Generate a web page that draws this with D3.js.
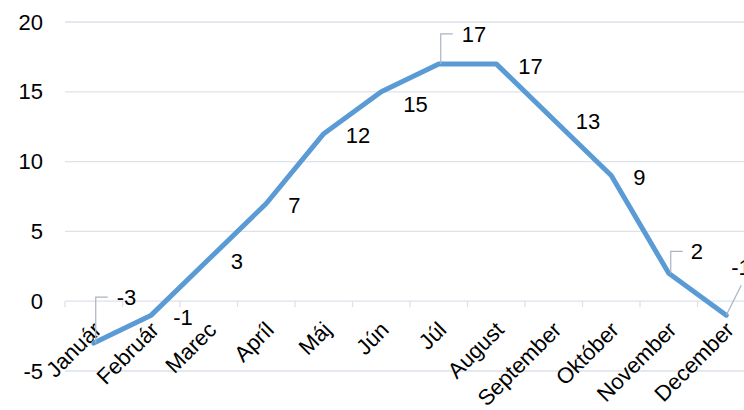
<!DOCTYPE html>
<html>
<head>
<meta charset="utf-8">
<script src="https://cdn.jsdelivr.net/npm/d3@7"></script>
<style>
  body { margin: 0; background: #fff; }
  svg { display: block; font-family: "Liberation Sans", Arial, sans-serif; }
</style>
</head>
<body>
<div id="chart"></div>
<script>
// Data
const months = ['Január', 'Február', 'Marec', 'Apríl', 'Máj', 'Jún', 'Júl', 'August', 'September', 'Október', 'November', 'December'];
const temps = [-3, -1, 3, 7, 12, 15, 17, 17, 13, 9, 2, -1];
const yTicks = [-5, 0, 5, 10, 15, 20];

// Dimensions
const W = 744, H = 410;
const margin = { top: 22, left: 65 };
const plotW = 690;   // plot runs past the right edge of the picture
const plotH = 349;

const svg = d3.select('#chart')
    .append('svg')
    .attr('width', W)
    .attr('height', H);

const g = svg.append('g')
    .attr('transform', `translate(${margin.left},${margin.top})`);

// Scales
const x = d3.scaleBand().domain(months).range([0, plotW]);
const y = d3.scaleLinear().domain([-5, 20]).range([plotH, 0]);
const cx = m => x(m) + x.bandwidth() / 2;

// Gridlines
g.selectAll('.grid')
    .data(yTicks)
    .enter()
    .append('line')
    .attr('x1', 0)
    .attr('x2', plotW)
    .attr('y1', d => y(d))
    .attr('y2', d => y(d))
    .attr('stroke', '#dde1e8')
    .attr('stroke-width', 1.3);

// Y axis labels (plain hyphen minus like the original)
const yAxis = d3.axisLeft(y).tickValues(yTicks).tickSize(0).tickPadding(22).tickFormat(d => String(d));
g.append('g')
    .call(yAxis)
    .call(a => a.select('.domain').remove())
    .selectAll('text')
    .attr('font-size', 22)
    .attr('font-family', '"Liberation Sans", Arial, sans-serif')
    .attr('fill', '#000');

// X axis at zero, ticks between categories
const xAxisG = g.append('g').attr('transform', `translate(0,${y(0)})`);
xAxisG.selectAll('.tick-mark')
    .data(d3.range(months.length + 1))
    .enter()
    .append('line')
    .attr('x1', i => i * x.step())
    .attr('x2', i => i * x.step())
    .attr('y1', 0)
    .attr('y2', 6)
    .attr('stroke', '#dde1e8')
    .attr('stroke-width', 1.3);

xAxisG.selectAll('.xlabel')
    .data(months)
    .enter()
    .append('text')
    .attr('text-anchor', 'end')
    .attr('font-size', 22)
    .attr('fill', '#000')
    .attr('transform', d => `translate(${cx(d) + 9},${30}) rotate(-45)`)
    .text(d => d);

// Line
const line = d3.line()
    .x((d, i) => cx(months[i]))
    .y(d => y(d));

g.append('path')
    .datum(temps)
    .attr('d', line)
    .attr('fill', 'none')
    .attr('stroke', '#5b9bd5')
    .attr('stroke-width', 5)
    .attr('stroke-linejoin', 'round')
    .attr('stroke-linecap', 'round');

// Data labels; a few sit away from the point with a leader line
const leaders = {
    0: { dx: 23, dy: -46 },
    6: { dx: 23, dy: -30 },
    10: { dx: 22, dy: -22 },
    11: { dx: 5, dy: -48, slant: true }
};

temps.forEach((v, i) => {
    const px = cx(months[i]);
    const py = y(v);
    const L = leaders[i];
    if (L) {
        const ly = py + L.dy;
        const path = L.slant
            ? `M${px},${py}L${px + 15},${py - 30}`
            : `M${px + 2},${py}L${px + 2},${ly}L${px + 14},${ly}`;
        g.append('path')
            .attr('d', path)
            .attr('fill', 'none')
            .attr('stroke', '#a9b4c2')
            .attr('stroke-width', 1.2);
        g.append('text')
            .attr('x', px + L.dx)
            .attr('y', ly)
            .attr('dy', '0.35em')
            .attr('font-size', 22)
            .attr('fill', '#000')
            .text(v);
    } else {
        g.append('text')
            .attr('x', px + 22)
            .attr('y', py + (i === 5 ? 12 : 2))
            .attr('dy', '0.35em')
            .attr('font-size', 22)
            .attr('fill', '#000')
            .text(v);
    }
});
</script>
</body>
</html>
